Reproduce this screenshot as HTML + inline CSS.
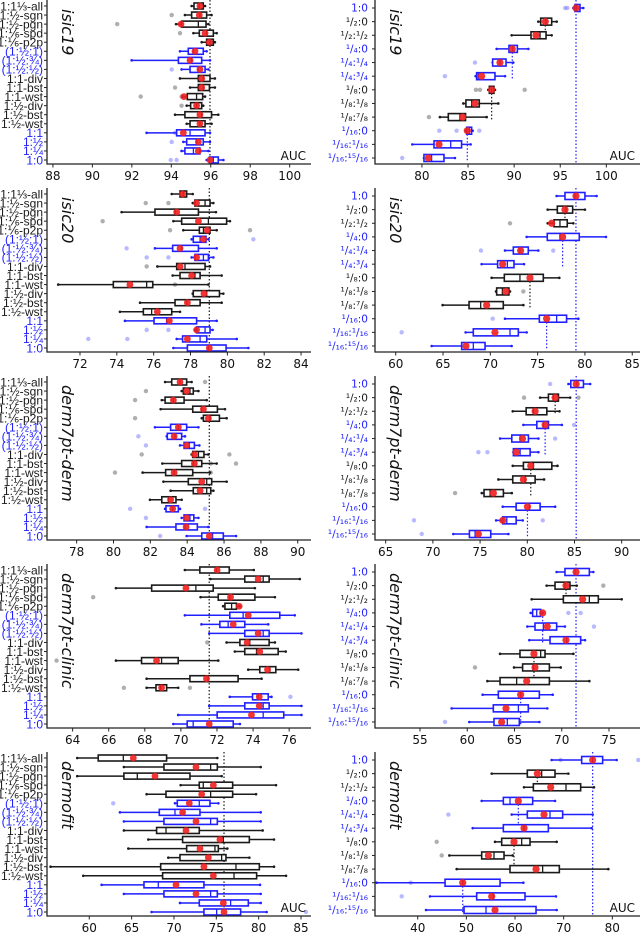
<!DOCTYPE html>
<html><head><meta charset="utf-8">
<style>
html,body{margin:0;padding:0;background:#fff;}
svg{display:block;font-family:"DejaVu Sans","Liberation Sans",sans-serif;}
</style></head>
<body>
<svg id="chart" width="640" height="935" viewBox="0 0 640 935"></svg>
<script>
// ---------- categories ----------
const labelsL = ["1:1⅓-all","1:½-sgn","1:½-pgn","1:⅙-spd","1:⅙-p2p","(1:½:1)","(1:½:¾)","(1:½:½)","1:1-div","1:1-bst","1:1-wst","1:½-div","1:½-bst","1:½-wst","1:1","1:½","1:¼","1:0"];
const blueL = [5,6,7,14,15,16,17];
const labelsR = ["1:0","¹/₂:0","¹/₂:¹/₂","¹/₄:0","¹/₄:¹/₄","¹/₄:³/₄","¹/₈:0","¹/₈:¹/₈","¹/₈:⁷/₈","¹/₁₆:0","¹/₁₆:¹/₁₆","¹/₁₆:¹⁵/₁₆"];
const blueR = [0,3,4,5,9,10,11];
const datasets = ["isic19","isic20","derm7pt-derm","derm7pt-clinic","dermofit"];

// ---------- isic19 (left) ----------
const L1_lo=[95.03,94.69,94.24,95.12,95.54,94.44,91.99,94.52,94.44,94.95,94.58,94.78,94.19,94.78,92.75,94.61,94.52,95.79];
const L1_q1=[95.15,95.03,94.52,95.42,95.79,94.86,94.36,94.95,95.37,95.37,94.81,94.98,94.69,94.95,94.27,94.78,94.69,95.93];
const L1_med=[95.42,95.45,95.37,95.79,95.96,95.12,95.03,95.37,95.62,95.62,95.28,95.28,95.54,95.45,94.95,95.28,95.12,96.13];
const L1_q3=[95.62,95.79,95.76,96.13,96.13,95.62,95.54,95.71,95.96,95.93,95.59,95.54,96.04,95.71,95.71,95.62,95.45,96.38];
const L1_hi=[95.71,96.04,95.88,96.30,96.21,95.79,95.96,95.88,96.21,96.21,95.71,95.62,96.38,96.04,95.96,95.96,95.88,96.64];
const L1_mean=[95.45,95.42,94.49,95.71,95.93,95.20,94.95,95.45,95.54,95.54,94.64,95.28,95.45,95.45,94.61,95.37,95.37,95.96];
const L1_out=[[],[94.02],[91.26],[94.44],[],[],[],[94.02],[],[94.19],[92.45,94.52],[94.52],[94.78],[],[94.19],[94.02],[],[93.97,94.27]];
// ---------- isic20 (left) ----------
const L2_lo=[76.98,78.12,74.26,77.07,77.61,78.06,76.07,78.06,76.20,77.03,70.82,78.12,75.26,74.17,74.44,78.24,77.25,77.07];
const L2_q1=[77.43,78.24,76.07,77.52,78.48,78.15,77.03,78.24,77.25,77.43,73.81,78.15,77.16,75.44,76.02,78.33,77.57,77.83];
const L2_med=[77.60,78.79,77.16,78.97,78.70,78.52,77.52,78.70,77.70,78.24,75.62,78.88,77.79,75.89,76.70,78.79,78.52,78.97];
const L2_q3=[77.79,79.06,78.43,79.96,79.06,78.84,78.43,78.97,78.79,78.52,75.95,79.57,78.52,76.98,78.33,79.06,78.88,79.93];
const L2_hi=[78.12,79.24,79.38,80.14,79.42,78.97,79.42,79.24,79.06,79.69,78.97,79.78,79.69,77.43,79.42,79.20,80.51,81.14];
const L2_mean=[77.57,78.33,77.25,78.43,78.91,78.70,77.43,78.33,77.43,78.06,74.71,78.73,77.83,76.20,76.85,78.33,77.83,79.02];
const L2_out=[[],[75.57,76.80],[],[73.23],[76.89,81.23],[81.41],[74.53],[75.62,76.80],[75.62],[],[77.16],[],[],[],[],[75.62,76.80],[72.45,74.57],[]];
// ---------- derm7pt-derm (left) ----------
const L3_lo=[82.80,83.70,82.62,82.56,84.79,82.25,82.89,83.61,84.24,82.65,81.58,82.71,83.10,81.98,82.80,83.70,81.80,83.97];
const L3_q1=[83.16,83.79,82.80,84.30,84.88,83.10,82.92,83.83,84.30,83.70,82.83,84.06,84.33,82.62,82.85,83.83,83.39,84.79];
const L3_med=[83.61,84.15,83.25,84.79,85.24,83.52,83.34,84.12,84.61,84.33,83.29,85.06,85.06,82.98,83.21,84.15,83.88,85.38];
const L3_q3=[83.97,84.33,83.83,85.64,85.75,83.97,83.70,84.39,84.91,84.79,84.30,85.33,85.28,83.39,83.52,84.36,84.55,85.96];
const L3_hi=[84.24,84.61,85.06,86.05,86.14,84.61,83.88,84.66,85.15,85.60,85.24,86.14,85.42,83.70,83.61,84.61,85.15,86.65];
const L3_mean=[83.61,83.97,83.25,84.88,85.15,83.52,83.29,83.97,84.39,84.39,83.29,84.79,84.70,83.10,83.21,83.97,83.94,85.20];
const L3_out=[[84.97],[81.76],[81.17],[],[81.17],[],[81.35],[81.76],[81.53,86.29],[86.65,85.28],[80.08,85.28],[],[],[],[80.90,84.97],[81.76],[],[82.53]];
// ---------- derm7pt-clinic (left) ----------
const L4_lo=[70.22,71.64,66.40,71.09,72.34,70.22,71.14,71.57,72.53,72.99,66.40,73.73,68.10,68.10,72.71,71.57,69.85,69.58];
const L4_q1=[71.05,73.54,68.38,72.07,72.44,72.71,72.16,73.54,73.27,73.54,67.82,74.37,70.50,68.62,73.97,73.54,72.01,70.35];
const L4_med=[71.97,74.56,70.83,72.71,72.81,73.45,72.62,74.56,73.82,74.19,68.93,74.93,71.51,68.87,74.28,74.56,74.56,70.68];
const L4_q3=[72.68,74.89,71.79,74.10,73.08,75.48,73.54,74.89,74.89,75.39,69.85,75.26,73.17,69.21,74.84,74.89,75.70,72.90];
const L4_hi=[74.04,76.59,74.10,75.21,73.27,76.31,74.84,76.68,75.21,75.81,72.07,76.50,74.47,69.85,75.02,76.68,76.68,73.27];
const L4_mean=[72.01,74.28,70.28,72.75,73.23,73.73,72.90,74.28,73.67,74.37,68.65,74.80,71.42,68.93,74.34,74.34,73.91,71.57];
const L4_out=[[],[],[],[65.14],[],[],[],[],[71.46],[],[63.11],[],[],[66.84,70.50],[76.07],[],[],[]];
// ---------- dermofit (left) ----------
const L5_lo=[58.58,64.09,58.58,70.79,66.77,70.12,63.62,64.09,64.09,66.97,64.61,69.33,55.43,59.29,61.46,64.09,70.71,67.36];
const L5_q1=[61.06,68.82,64.09,72.99,69.06,70.39,68.27,68.82,67.95,71.02,71.50,70.71,68.43,68.66,66.46,68.82,72.99,73.54];
const L5_med=[64.02,74.33,65.67,73.46,74.33,72.99,70.12,74.33,69.06,75.83,74.84,75.63,77.32,77.09,68.15,74.33,76.69,75.04];
const L5_q3=[69.13,75.12,71.89,76.93,76.93,74.25,73.07,75.12,72.99,78.90,75.24,76.14,80.08,79.76,73.54,75.12,78.78,77.87];
const L5_hi=[75.12,80.24,75.63,82.05,79.69,75.24,80.24,80.24,80.47,81.81,76.30,78.90,81.81,83.23,80.16,80.24,80.24,80.94];
const L5_mean=[65.20,72.60,67.76,74.65,73.27,71.81,71.02,72.60,71.42,75.43,73.07,74.06,73.54,74.65,70.24,72.60,75.83,75.91];
const L5_out=[[],[],[],[],[],[62.83],[],[],[],[],[],[],[],[],[],[],[],[85.59]];

// ---------- isic19 (right) ----------
const R1_lo=[96.42,92.62,89.73,88.10,87.67,85.82,87.20,84.49,81.95,84.77,78.96,80.22];
const R1_q1=[96.60,92.88,91.83,89.44,87.67,85.93,87.31,84.77,82.86,84.85,81.31,80.22];
const R1_med=[96.78,93.46,92.81,89.84,88.46,86.11,87.56,85.39,84.12,85.14,83.12,81.05];
const R1_q3=[97.14,94.07,93.46,90.35,89.12,87.92,87.81,86.22,84.73,85.39,84.30,82.39];
const R1_hi=[97.50,94.62,94.07,91.54,89.91,89.01,87.92,88.28,87.02,85.50,85.28,83.58];
const R1_mean=[96.71,93.38,92.37,89.80,88.46,86.47,87.56,85.75,84.41,84.92,81.85,80.69];
const R1_out=[[95.52,95.78],[],[],[],[85.75],[82.49],[85.86,86.30,91.14],[],[80.76],[81.88,83.76,86.22],[],[77.86]];
// ---------- isic20 (right) ----------
const R2_lo=[77.01,76.06,76.06,73.84,71.55,69.08,70.14,70.60,64.96,71.55,67.39,63.80];
const R2_q1=[77.89,77.08,76.73,76.02,72.43,70.77,71.48,70.67,67.75,75.18,68.20,66.97];
const R2_med=[78.94,77.99,77.36,77.36,73.13,71.80,73.13,71.27,68.98,77.01,72.08,68.20];
const R2_q3=[80.00,78.70,78.13,79.40,74.01,72.50,75.60,71.97,71.37,78.06,72.96,69.44];
const R2_hi=[81.23,80.00,78.77,82.22,75.07,73.56,77.29,72.08,73.49,79.30,73.84,72.25];
const R2_mean=[79.05,77.89,76.48,77.64,73.20,71.30,74.19,71.65,69.61,75.95,70.49,67.43];
const R2_out=[[],[],[72.08],[],[69.01,76.65],[],[],[73.49],[],[70.25],[60.63],[]];
// ---------- derm7pt-derm (right) ----------
const R3_lo=[84.36,81.36,78.46,79.59,77.12,78.53,78.46,76.94,75.18,77.40,76.70,72.17];
const R3_q1=[84.61,82.24,79.88,81.01,78.36,78.53,79.59,78.46,75.42,78.82,77.40,73.87];
const R3_med=[85.25,82.77,80.65,81.71,79.24,79.24,80.65,79.77,76.06,80.23,77.83,74.47];
const R3_q3=[85.95,83.30,82.07,82.24,80.12,80.30,82.60,80.83,77.47,81.36,78.82,76.13];
const R3_hi=[86.66,84.54,83.41,83.66,81.18,81.18,83.20,81.78,78.36,82.95,79.52,78.00];
const R3_mean=[85.18,82.95,80.83,81.89,79.49,78.82,80.37,79.59,76.41,80.02,77.40,74.82];
const R3_out=[[82.42],[79.66,85.42],[],[84.96],[82.95],[74.82,75.78],[],[],[72.35],[],[68.00,81.64],[68.82]];
// ---------- derm7pt-clinic (right) ----------
const R4_lo=[69.46,68.40,66.82,66.71,66.36,66.57,63.47,64.95,62.13,61.63,58.35,60.22];
const R4_q1=[70.34,69.29,70.17,66.92,67.17,68.76,65.58,65.86,63.47,63.29,62.76,62.83];
const R4_med=[71.40,70.34,72.92,67.35,68.05,70.52,67.77,66.99,65.23,65.65,65.41,64.24];
const R4_q3=[72.92,70.87,73.87,67.77,69.46,72.00,68.23,68.69,68.69,67.63,66.46,65.51];
const R4_hi=[73.34,71.58,76.34,67.98,70.34,72.46,71.23,69.89,72.92,69.04,68.47,67.63];
const R4_mean=[71.51,70.45,72.21,67.98,68.47,70.45,67.06,67.17,66.29,65.65,64.10,63.64];
const R4_out=[[],[74.40],[],[70.70,72.00],[73.41],[],[],[60.82],[],[],[],[57.65]];
// ---------- dermofit (right) ----------
const R5_lo=[67.53,55.21,61.85,53.15,59.32,51.30,55.89,46.51,48.01,31.58,42.53,41.71];
const R5_q1=[73.70,62.53,63.77,57.60,62.53,57.60,57.26,53.15,58.97,45.62,52.12,49.52];
const R5_med=[75.96,65.48,70.48,58.97,67.19,61.85,61.37,55.68,65.68,49.25,55.55,54.04];
const R5_q3=[78.01,68.22,73.49,63.63,69.79,66.85,63.08,57.74,69.11,56.92,62.05,64.32];
const R5_hi=[80.89,70.96,76.23,68.22,75.96,75.75,68.56,59.52,79.18,61.71,68.42,68.56];
const R5_mean=[75.96,64.59,67.33,60.68,65.96,61.85,59.79,54.52,64.32,49.25,55.21,55.89];
const R5_out=[[69.38,85.34],[],[],[],[46.30],[],[43.90],[44.93],[],[38.56],[36.71],[]];

// ---------- tick labels ----------
const ticksL1=[88,90,92,94,96,98,100];
const ticksL2=[72,74,76,78,80,82,84];
const ticksL3=[78,80,82,84,86,88,90];
const ticksL4=[64,66,68,70,72,74,76];
const ticksL5=[60,65,70,75,80,85];
const ticksR1=[80,85,90,95,100];
const ticksR2=[60,65,70,75,80,85];
const ticksR3=[65,70,75,80,85,90];
const ticksR4=[55,60,65,70,75];
const ticksR5=[40,50,60,70,80];

const NS="http://www.w3.org/2000/svg";
const svg=document.getElementById('chart');
function mk(tag,attrs,parent){const e=document.createElementNS(NS,tag);for(const k in attrs)e.setAttribute(k,attrs[k]);(parent||svg).appendChild(e);return e;}

const BLUE="#1f1fff", BLACK="#1a1a1a", RED="rgba(240,30,30,0.9)";
const panels=[
 {side:'L',row:0,dmin:87.70,dmax:101.08,ticks:ticksL1,lo:L1_lo,q1:L1_q1,med:L1_med,q3:L1_q3,hi:L1_hi,mean:L1_mean,out:L1_out,auc:true},
 {side:'L',row:1,dmin:70.21,dmax:84.54,ticks:ticksL2,lo:L2_lo,q1:L2_q1,med:L2_med,q3:L2_q3,hi:L2_hi,mean:L2_mean,out:L2_out},
 {side:'L',row:2,dmin:76.39,dmax:90.72,ticks:ticksL3,lo:L3_lo,q1:L3_q1,med:L3_med,q3:L3_q3,hi:L3_hi,mean:L3_mean,out:L3_out},
 {side:'L',row:3,dmin:62.58,dmax:77.21,ticks:ticksL4,lo:L4_lo,q1:L4_q1,med:L4_med,q3:L4_q3,hi:L4_hi,mean:L4_mean,out:L4_out},
 {side:'L',row:4,dmin:55.01,dmax:86.18,ticks:ticksL5,lo:L5_lo,q1:L5_q1,med:L5_med,q3:L5_q3,hi:L5_hi,mean:L5_mean,out:L5_out,auc:true},
 {side:'R',row:0,dmin:74.91,dmax:103.65,ticks:ticksR1,lo:R1_lo,q1:R1_q1,med:R1_med,q3:R1_q3,hi:R1_hi,mean:R1_mean,out:R1_out,auc:true},
 {side:'R',row:1,dmin:57.81,dmax:85.82,ticks:ticksR2,lo:R2_lo,q1:R2_q1,med:R2_med,q3:R2_q3,hi:R2_hi,mean:R2_mean,out:R2_out},
 {side:'R',row:2,dmin:63.87,dmax:91.94,ticks:ticksR3,lo:R3_lo,q1:R3_q1,med:R3_med,q3:R3_q3,hi:R3_hi,mean:R3_mean,out:R3_out},
 {side:'R',row:3,dmin:50.24,dmax:78.28,ticks:ticksR4,lo:R4_lo,q1:R4_q1,med:R4_med,q3:R4_q3,hi:R4_hi,mean:R4_mean,out:R4_out},
 {side:'R',row:4,dmin:31.22,dmax:85.69,ticks:ticksR5,lo:R5_lo,q1:R5_q1,med:R5_med,q3:R5_q3,hi:R5_hi,mean:R5_mean,out:R5_out,auc:true}
];

panels.forEach(p=>{
  const isL=p.side==='L';
  const spine=164+p.row*188;
  const x0=isL?47:375, W=isL?264:265;
  const n=isL?18:12;
  const labels=isL?labelsL:labelsR;
  const blues=isL?blueL:blueR;
  const yTop=isL?spine-158:spine-156;
  const step=isL?154/17:150/11;
  const bh=isL?6:7;
  const mr=isL?3.4:3.6;
  const X=v=>x0+(v-p.dmin)/(p.dmax-p.dmin)*W;
  const Y=i=>yTop+i*step;
  const g=mk('g',{});
  
  

  if(isL){
    const rl=mk('line',{x1:X(p.mean[17]),x2:X(p.mean[17]),y1:spine-164,y2:spine,stroke:BLACK,'stroke-width':1.2,'stroke-dasharray':'1.5,2'},g);
    
    
  } else {
    const rl=mk('line',{x1:X(p.mean[0]),x2:X(p.mean[0]),y1:spine-164,y2:spine,stroke:BLUE,'stroke-width':1.2,'stroke-dasharray':'1.5,2'},g);
    
    
    [[1,2,BLACK],[3,5,BLUE],[6,8,BLACK],[9,11,BLUE]].forEach(gr=>{
      const xv=X(p.mean[gr[0]]);
      const gl=mk('line',{x1:xv,x2:xv,y1:Y(gr[0]),y2:Y(gr[1])+3,stroke:gr[2],'stroke-width':1.2,'stroke-dasharray':'1.5,2'},g);
      
      
    });
  }

  for(let i=0;i<n;i++){
    const c=blues.includes(i)?BLUE:BLACK;
    const y=Y(i);
    const bg=mk('g',{},g);
    
    
    p.out[i].forEach(v=>{
      const o=mk('circle',{cx:X(v),cy:y,r:2.2,fill:c===BLUE?'rgba(100,100,255,0.45)':'rgba(110,110,110,0.55)'},bg);
      
      
    });
    const w=mk('line',{x1:X(p.lo[i]),x2:X(p.hi[i]),y1:y,y2:y,stroke:c,'stroke-width':1.5},bg);
    
    
    [p.lo[i],p.hi[i]].forEach(v=>{
      const e=mk('circle',{cx:X(v),cy:y,r:1.3,fill:c},bg);
      
      
    });
    const b=mk('rect',{x:X(p.q1[i]),y:y-bh/2,width:Math.max(0.5,X(p.q3[i])-X(p.q1[i])),height:bh,fill:'#fff',stroke:c,'stroke-width':1.6},bg);
    
    
    const m=mk('line',{x1:X(p.med[i]),x2:X(p.med[i]),y1:y-bh/2,y2:y+bh/2,stroke:c,'stroke-width':1.3},bg);
    
    
    const mn=mk('circle',{cx:X(p.mean[i]),cy:y,r:mr,fill:RED},bg);
    
    
    mk('line',{x1:x0-3,x2:x0,y1:y,y2:y,stroke:'#222','stroke-width':1},g);
    const t=mk('text',{x:isL?43:368,y:y+(isL?4.3:3.7),'text-anchor':'end','font-size':isL?12:10.5,fill:c,'font-family':isL?'"Liberation Sans","DejaVu Sans",sans-serif':'"DejaVu Sans",sans-serif'},g);
    t.textContent=labels[i];
    
    
  }

  const sp=mk('path',{d:`M${x0},${spine-164} V${spine} H${x0+W}`,fill:'none',stroke:'#222','stroke-width':1.3},g);
  
  
  p.ticks.forEach(tv=>{
    const tx=X(tv);
    mk('line',{x1:tx,x2:tx,y1:spine,y2:spine+3.5,stroke:'#222','stroke-width':1},g);
    const tl=mk('text',{x:tx,y:spine+16,'text-anchor':'middle','font-size':12,fill:'#111'},g);
    tl.textContent=tv;
    
    
  });
  const tx=isL?62:390, ty=spine-155;
  const tt=mk('text',{x:tx,y:ty,transform:`rotate(90 ${tx} ${ty})`,'font-size':16,'font-style':'italic',fill:'#111'},g);
  tt.textContent=datasets[p.row];
  
  
  if(p.auc){
    const a=mk('text',{x:x0+W-5,y:spine-4,'text-anchor':'end','font-size':12,fill:'#111'},g);
    a.textContent='AUC';
    
    
  }
});
</script>
</body></html>
